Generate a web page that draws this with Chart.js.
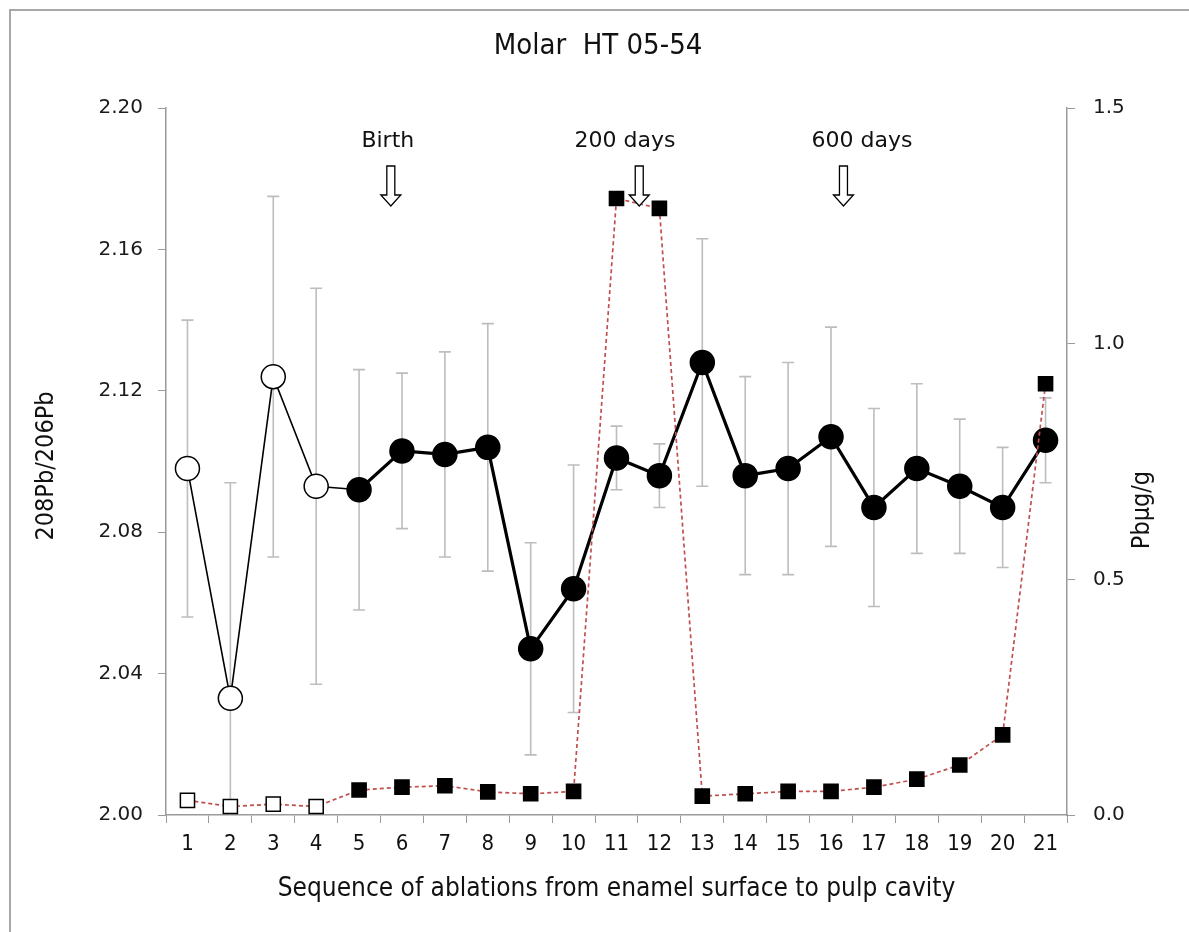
<!DOCTYPE html>
<html>
<head>
<meta charset="utf-8">
<script src="https://cdn.jsdelivr.net/npm/chart.js@4.4.1/dist/chart.umd.min.js"></script>
<style>
  html, body { margin: 0; padding: 0; background: #fff; }
  #wrap { position: relative; width: 1189px; height: 932px; }
  #frame { position: absolute; left: 9px; top: 9px; width: 1190px; height: 930px;
           border-left: 2px solid #a8a8a8; border-top: 2px solid #a8a8a8; pointer-events: none; }
</style>
</head>
<body>
<div id="wrap">
  <canvas id="chart"></canvas>
  <div id="frame"></div>
</div>
<script>
// ablation number along the tooth
const ablations = ['1','2','3','4','5','6','7','8','9','10','11','12','13','14','15','16','17','18','19','20','21'];

// 208Pb/206Pb with its error (+/-)
const ratio = [2.098, 2.033, 2.124, 2.093, 2.092, 2.103, 2.102, 2.104, 2.047, 2.064, 2.101,
               2.096, 2.128, 2.096, 2.098, 2.107, 2.087, 2.098, 2.093, 2.087, 2.106];
const ratioErr = [0.042, 0.061, 0.051, 0.056, 0.034, 0.022, 0.029, 0.035, 0.030, 0.035, 0.009,
                  0.009, 0.035, 0.028, 0.030, 0.031, 0.028, 0.024, 0.019, 0.017, 0.012];

// Pb concentration, ug/g
const lead = [0.031, 0.018, 0.023, 0.018, 0.053, 0.059, 0.062, 0.049, 0.045, 0.050, 1.308,
              1.287, 0.040, 0.045, 0.050, 0.050, 0.059, 0.076, 0.106, 0.170, 0.915];

// the first ablations are drawn as open markers
const openCount = 4;

// age marks: label, where the label sits and where the arrow points (ablation index)
const marks = ['Birth', '200 days', '600 days'];
const markLabelAt = [4.67, 10.20, 15.72];
const markArrowAt = [4.74, 10.53, 15.29];

const narrow = '"Liberation Sans Narrow", "DejaVu Sans Condensed", "Open Sans", sans-serif';
const verdana = '"DejaVu Sans", sans-serif';

const errorBars = {
  id: 'errorBars',
  beforeDatasetsDraw(chart) {
    const { ctx, chartArea: a, scales } = chart;
    const x = scales.x, y = scales.y;
    ctx.save();
    ctx.beginPath();
    ctx.rect(a.left, a.top, a.right - a.left, a.bottom - a.top);
    ctx.clip();
    ctx.strokeStyle = '#bdbdbd';
    ctx.lineWidth = 1.6;
    ratio.forEach((v, i) => {
      const px = x.getPixelForValue(i);
      const hi = y.getPixelForValue(v + ratioErr[i]);
      const lo = y.getPixelForValue(v - ratioErr[i]);
      ctx.beginPath();
      ctx.moveTo(px, hi); ctx.lineTo(px, lo);
      ctx.moveTo(px - 6, hi); ctx.lineTo(px + 6, hi);
      ctx.moveTo(px - 6, lo); ctx.lineTo(px + 6, lo);
      ctx.stroke();
    });
    ctx.restore();
  }
};

function hollowArrow(ctx, cx, top, tip) {
  const shaft = 4, head = 10, headH = 11;
  ctx.beginPath();
  ctx.moveTo(cx - shaft, top);
  ctx.lineTo(cx + shaft, top);
  ctx.lineTo(cx + shaft, tip - headH);
  ctx.lineTo(cx + head, tip - headH);
  ctx.lineTo(cx, tip);
  ctx.lineTo(cx - head, tip - headH);
  ctx.lineTo(cx - shaft, tip - headH);
  ctx.closePath();
  ctx.fillStyle = '#fff';
  ctx.fill();
  ctx.strokeStyle = '#000';
  ctx.lineWidth = 1.3;
  ctx.stroke();
}

const texts = {
  id: 'texts',
  afterDraw(chart) {
    const { ctx, chartArea: a, scales } = chart;
    const x = scales.x;
    ctx.save();
    ctx.fillStyle = '#111';
    ctx.textAlign = 'center';
    ctx.textBaseline = 'middle';

    ctx.font = '29px ' + narrow;
    ctx.fillText('Molar  HT 05-54', 598, 46);

    ctx.font = '26px ' + narrow;
    ctx.fillText('Sequence of ablations from enamel surface to pulp cavity', (a.left + a.right) / 2, 889);

    ctx.font = '25px ' + narrow;
    ctx.save();
    ctx.translate(46, 466);
    ctx.rotate(-Math.PI / 2);
    ctx.fillText('208Pb/206Pb', 0, 0);
    ctx.restore();

    ctx.save();
    ctx.translate(1142, 510);
    ctx.rotate(-Math.PI / 2);
    ctx.fillText('Pbµg/g', 0, 0);
    ctx.restore();

    ctx.font = '22px ' + verdana;
    marks.forEach((m, i) => {
      ctx.fillStyle = '#111';
      ctx.fillText(m, x.getPixelForValue(markLabelAt[i]), a.top + 33);
      hollowArrow(ctx, x.getPixelForValue(markArrowAt[i]), a.top + 58, a.top + 98);
    });
    ctx.restore();
  }
};

new Chart(document.getElementById('chart'), {
  type: 'line',
  data: {
    labels: ablations,
    datasets: [
      {
        label: 'Pb',
        data: lead,
        yAxisID: 'y2',
        borderColor: '#c0504d',
        borderWidth: 1.7,
        borderDash: [4, 3],
        pointStyle: 'rect',
        pointRadius: 10,
        pointBorderWidth: 1.5,
        pointBorderColor: '#000',
        pointBackgroundColor: (c) => c.dataIndex < openCount ? '#fff' : '#000',
        tension: 0
      },
      {
        label: '208Pb/206Pb',
        data: ratio,
        yAxisID: 'y',
        borderColor: '#000',
        segment: {
          borderWidth: (c) => c.p0DataIndex < openCount ? 1.6 : 3.2
        },
        pointRadius: 12,
        pointBorderWidth: 1.5,
        pointBorderColor: '#000',
        pointBackgroundColor: (c) => c.dataIndex < openCount ? '#fff' : '#000',
        tension: 0
      }
    ]
  },
  options: {
    responsive: true,
    maintainAspectRatio: false,
    animation: false,
    layout: { padding: { top: 108, left: 0, right: 0, bottom: 0 } },
    plugins: {
      legend: { display: false },
      tooltip: { enabled: false },
      title: { display: false }
    },
    scales: {
      x: {
        type: 'category',
        offset: true,
        grid: { offset: true, drawOnChartArea: false, color: '#9a9a9a', tickLength: 8 },
        border: { color: '#9a9a9a', width: 1.5 },
        ticks: { color: '#111', font: { family: narrow, size: 22 }, padding: 8, maxRotation: 0 },
        afterFit: (s) => { s.height = 117; }
      },
      y: {
        position: 'left',
        min: 2.0,
        max: 2.2,
        grid: { drawOnChartArea: false, color: '#9a9a9a', tickLength: 8 },
        border: { color: '#9a9a9a', width: 1.5 },
        ticks: { stepSize: 0.04, color: '#1a1a1a', font: { family: verdana, size: 20 }, padding: 15,
                 callback: (v) => v.toFixed(2) },
        afterFit: (s) => { s.width = 166; }
      },
      y2: {
        position: 'right',
        min: 0,
        max: 1.5,
        grid: { drawOnChartArea: false, color: '#9a9a9a', tickLength: 8 },
        border: { color: '#9a9a9a', width: 1.5 },
        ticks: { stepSize: 0.5, color: '#1a1a1a', font: { family: verdana, size: 20 }, padding: 18,
                 callback: (v) => v.toFixed(1) },
        afterFit: (s) => { s.width = 122; }
      }
    }
  },
  plugins: [errorBars, texts]
});
</script>
</body>
</html>
